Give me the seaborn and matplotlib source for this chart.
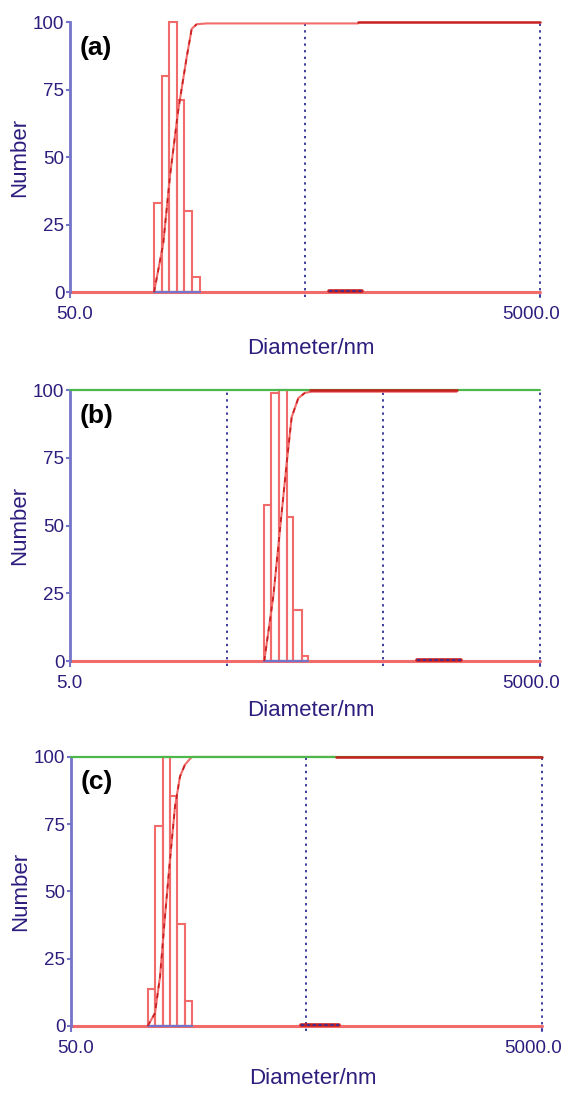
import numpy as np
import matplotlib
matplotlib.use("Agg")
import matplotlib.pyplot as plt
import matplotlib.transforms as mtransforms
import seaborn as sns

# panel (a)
edges_a = [114, 123, 132.4, 142.2, 153.3, 165.7, 178.8]
counts_a = [33, 80, 100, 71, 30, 5.5]
cum_x_a = [114, 124.7, 133.2, 144.5, 156.9, 164.8, 173.0, 190.8, 841]
cum_y_a = [0, 18, 43, 67.5, 87, 97.5, 99.2, 99.5, 99.5]
top_a = [841, 5000]
peak2_a = [632, 875]

# panel (b)
edges_b = [86.9, 95.5, 107.9, 120.8, 133.1, 150.5, 165.8]
counts_b = [57.5, 99, 100, 53.3, 18.8, 2]
cum_x_b = [86.9, 99.2, 109.4, 120.8, 130, 143.3, 158, 174.3, 1468]
cum_y_b = [0, 23.7, 48.3, 73, 90, 97, 99, 99.4, 99.4]
top_b = [170, 1468]
peak2_b = [815, 1563]

# panel (c)
edges_c = [105.8, 113.6, 122.5, 131.6, 141.6, 152.6, 164.0]
counts_c = [13.6, 74.4, 100, 85.3, 38, 9.4]
cum_x_c = [105.8, 113.6, 119.4, 125.3, 131.6, 138.2, 145.1, 152.3, 162.7, 666]
cum_y_c = [0, 4.7, 18.3, 40.6, 61.6, 81.4, 92.6, 97, 99.9, 99.9]
top_c = [666, 5000]
peak2_c = [472, 688]

xlims = [(50, 5000), (5, 5000), (50, 5000)]
xtick_labels = [["50.0", "5000.0"], ["5.0", "5000.0"], ["50.0", "5000.0"]]
grids = [[500, 5000], [50, 500, 5000], [500, 5000]]
tags = ["(a)", "(b)", "(c)"]
has_green = [False, True, True]
yticks = [0, 25, 50, 75, 100]

NAVY = "#2d1e7e"
RED = "#f26b6b"
DARKRED = "#c81e1e"
BLUE = "#7474c8"
GREEN = "#4cb84c"

sns.set_theme(style="white")
plt.rcParams["font.family"] = ["Liberation Sans", "DejaVu Sans"]


def draw_panel(fig, rect, edges, counts, cum_x, cum_y, top, peak2,
               xlim, xlabels, grid, tag, green, label_y):
    ax = fig.add_axes(rect)
    ax.set_xscale("log")
    ax.set_xlim(*xlim)
    ax.set_ylim(0, 100)

    # histogram outlines
    left = np.array(edges[:-1])
    width = np.array(edges[1:]) - left
    ax.bar(left, counts, width=width, align="edge", fill=False,
           edgecolor=RED, linewidth=1.5, zorder=3, clip_on=False)

    # baseline and blue under the bars
    sns.lineplot(x=list(xlim), y=[0, 0], ax=ax, color=RED, lw=2.2,
                 zorder=2, clip_on=False)
    sns.lineplot(x=[edges[0], edges[-1]], y=[0, 0], ax=ax, color=BLUE,
                 lw=1.6, zorder=4, clip_on=False)

    # small second population on the baseline
    sns.lineplot(x=peak2, y=[0.3, 0.3], ax=ax, color=DARKRED, lw=2.6,
                 zorder=4, clip_on=False)
    sns.lineplot(x=peak2, y=[0.3, 0.3], ax=ax, color="#3030a0", lw=1.2,
                 linestyle=(0, (2, 1.5)), zorder=5, clip_on=False)

    # cumulative curve, dashed dark overlay on the rising part
    sns.lineplot(x=cum_x, y=cum_y, ax=ax, sort=False, estimator=None,
                 color=RED, lw=1.5, zorder=3, clip_on=False)
    sns.lineplot(x=cum_x[:-2], y=cum_y[:-2], ax=ax, sort=False,
                 estimator=None, color=DARKRED, lw=1.2,
                 linestyle=(0, (3, 3)), zorder=4, clip_on=False)

    if green:
        sns.lineplot(x=list(xlim), y=[100, 100], ax=ax, color=GREEN, lw=1.6,
                     zorder=4, clip_on=False)
    sns.lineplot(x=top, y=[100, 100], ax=ax, color=DARKRED, lw=1.8,
                 zorder=5, clip_on=False)

    for g in grid:
        ax.axvline(g, ymin=-0.018, ymax=1, color="#3c3c9c", lw=1.4,
                   linestyle=(0, (1.2, 2.2)), zorder=1, clip_on=False)

    for side in ["top", "right", "bottom"]:
        ax.spines[side].set_visible(False)
    ax.spines["left"].set_color(BLUE)
    ax.spines["left"].set_linewidth(2)

    ax.set_yticks(yticks)
    ax.set_yticklabels([str(v) for v in yticks])
    ax.tick_params(axis="y", colors=BLUE, labelcolor=NAVY, labelsize=13.5,
                   length=3, width=1.5, pad=1, left=True)
    ax.set_xticks(list(xlim))
    ax.set_xticks([], minor=True)
    ax.set_xticklabels(xlabels)
    ax.tick_params(axis="x", colors=BLUE, labelcolor=NAVY, labelsize=13.5,
                   length=4, width=1.5, pad=6, bottom=True)
    ticklabs = ax.get_xticklabels()
    for lab, dx, ha in zip(ticklabs, [-14, 20], ["left", "right"]):
        lab.set_ha(ha)
        lab.set_transform(lab.get_transform() +
                          mtransforms.ScaledTranslation(dx / 100, 0, fig.dpi_scale_trans))

    ax.set_ylabel("Number", fontsize=16, color=NAVY, labelpad=2)
    ax.set_xlabel("Diameter/nm", fontsize=16, color=NAVY)
    ax.xaxis.set_label_coords(0.513, label_y)
    ax.text(0.021, 0.905, tag, transform=ax.transAxes, fontsize=19,
            fontweight="bold", color="black", ha="left", va="center")
    ax.grid(False)
    return ax


fig = plt.figure(figsize=(5.63, 10.93), dpi=100)
rects = [[0.1243, 0.7328, 0.8348, 0.2470],
         [0.1243, 0.3952, 0.8348, 0.2479],
         [0.1261, 0.0613, 0.8366, 0.2464]]
panels = [
    (edges_a, counts_a, cum_x_a, cum_y_a, top_a, peak2_a),
    (edges_b, counts_b, cum_x_b, cum_y_b, top_b, peak2_b),
    (edges_c, counts_c, cum_x_c, cum_y_c, top_c, peak2_c),
]
label_ys = [-0.17, -0.145, -0.155]

for i, (edges, counts, cx, cy, top, p2) in enumerate(panels):
    draw_panel(fig, rects[i], edges, counts, cx, cy, top, p2,
               xlims[i], xtick_labels[i], grids[i], tags[i], has_green[i],
               label_ys[i])

plt.savefig("out.png", dpi=100)
